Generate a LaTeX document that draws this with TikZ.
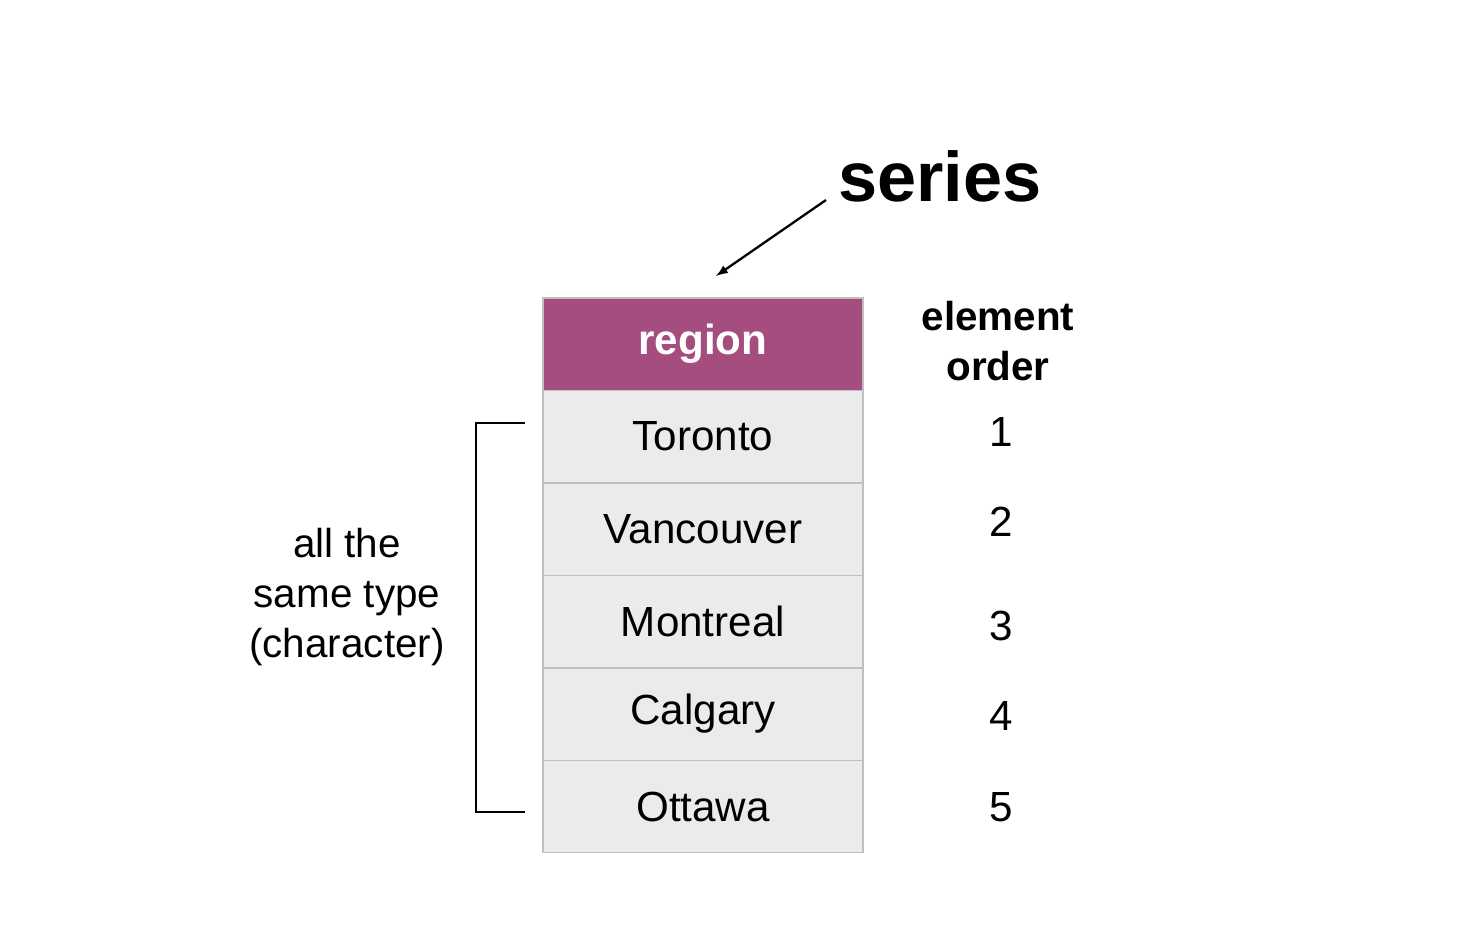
\documentclass[tikz,border=0pt]{standalone}
\usepackage{fontspec}
\setmainfont{Liberation Sans}
\begin{document}
\begin{tikzpicture}[x=0.02cm,y=-0.02cm,
 cell/.style={draw=black!25,fill=black!8,minimum width=320*0.02cm,minimum height=92.4*0.02cm,inner sep=0,font=\fontsize{24}{28}\selectfont,line width=0.8pt},
 hdr/.style={cell,fill=headc,draw=black!25,text=white,font=\fontsize{24}{28}\selectfont\bfseries},
 lbl/.style={font=\fontsize{24}{29}\selectfont,align=center},
 num/.style={font=\fontsize{24}{28}\selectfont}]
\definecolor{headc}{HTML}{A64D7F}
\useasboundingbox (0,0) rectangle (1464,940);
\node[hdr] (h) at (703,344) {region};
\node[cell] (r1) at (703,436.5) {Toronto};
\node[cell] (r2) at (703,529) {Vancouver};
\node[cell] (r3) at (703,621.5) {Montreal};
\node[cell] (r4) at (703,714) {Calgary};
\node[cell] (r5) at (703,806.5) {Ottawa};
\node[font=\fontsize{40}{48}\selectfont\bfseries] (s) at (940,176) {series};
\coordinate (a1) at (826,200);
\coordinate (a2) at (716,276);
\draw[-latex,line width=1.3pt] (a1) -- (a2);
\node[lbl,font=\fontsize{23}{28}\selectfont\bfseries] (eo) at (998,341) {element\\order};
\node[num] (n1) at (1001,432) {1};
\node[num] (n2) at (1001,522) {2};
\node[num] (n3) at (1001,626) {3};
\node[num] (n4) at (1001,716) {4};
\node[num] (n5) at (1001,807) {5};
\coordinate (b1) at (525,423);
\coordinate (b2) at (525,812);
\draw[line width=1.3pt] (b1) -- (476,423) -- (476,812) -- (b2);
\node[lbl,font=\fontsize{23}{28.3}\selectfont] (t) at (347,597) {all the\\same type\\(character)};
\end{tikzpicture}
\end{document}
